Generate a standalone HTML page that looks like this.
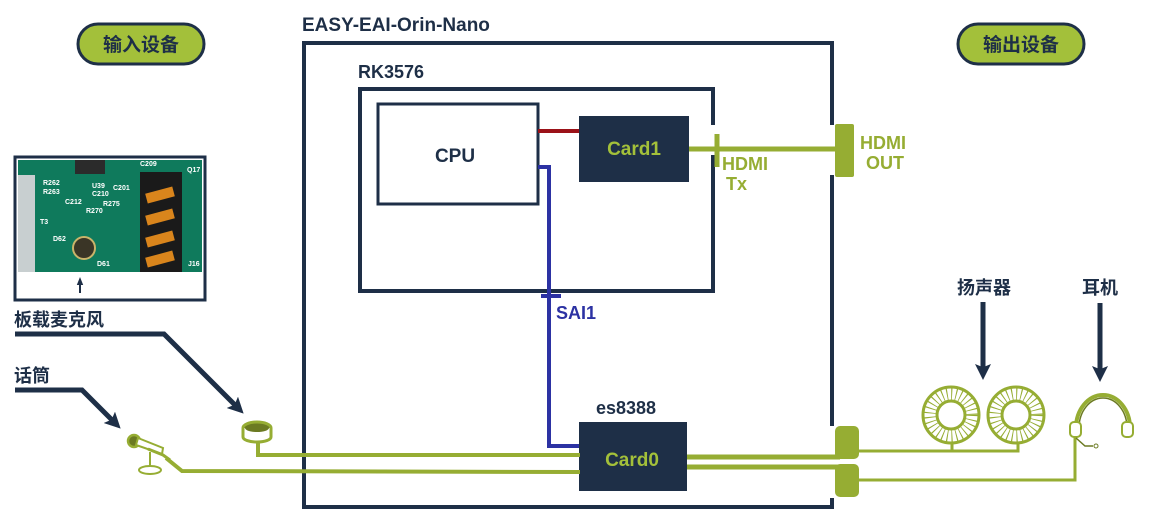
<!DOCTYPE html>
<html><head><meta charset="utf-8"><style>
html,body{margin:0;padding:0;background:#fff;}
svg{display:block;}
text{font-family:"Liberation Sans","Noto Sans CJK SC",sans-serif;font-weight:bold;}
</style></head><body>
<svg width="1150" height="522" viewBox="0 0 1150 522" xmlns="http://www.w3.org/2000/svg">
<defs>
<marker id="ah" viewBox="0 0 10 10" refX="5" refY="5" markerWidth="3.2" markerHeight="3.2" orient="auto"><path d="M0,0 L10,5 L0,10 L2,5 z" fill="#1e2f47"/></marker>
<marker id="ah2" viewBox="0 0 10 10" refX="5" refY="5" markerWidth="4" markerHeight="4" orient="auto"><path d="M0,1 L10,5 L0,9 z" fill="#1e2f47"/></marker>
</defs>
<rect x="78" y="24" width="126" height="40" rx="20" fill="#a3c03a" stroke="#1e2f47" stroke-width="3"/>
<text x="141" y="51" font-size="19" fill="#1e2f47" text-anchor="middle">输入设备</text>
<rect x="958" y="24" width="126" height="40" rx="20" fill="#a3c03a" stroke="#1e2f47" stroke-width="3"/>
<text x="1021" y="51" font-size="19" fill="#1e2f47" text-anchor="middle">输出设备</text>

<text x="302" y="31" font-size="19" fill="#1e2f47">EASY-EAI-Orin-Nano</text>
<rect x="304" y="43" width="528" height="464" fill="none" stroke="#1e2f47" stroke-width="4"/>
<text x="358" y="78" font-size="18" fill="#1e2f47">RK3576</text>
<rect x="360" y="89" width="353" height="202" fill="none" stroke="#1e2f47" stroke-width="4"/>
<rect x="378" y="104" width="160" height="100" fill="#fff" stroke="#1e2f47" stroke-width="3"/>
<text x="455" y="162" font-size="19" fill="#1e2f47" text-anchor="middle">CPU</text>
<line x1="538" y1="131" x2="580" y2="131" stroke="#9b1218" stroke-width="4"/>
<rect x="579" y="116" width="110" height="66" fill="#1e2f47"/>
<text x="634" y="155" font-size="19" fill="#a3c03a" text-anchor="middle">Card1</text>
<rect x="708" y="125" width="10" height="30" fill="#fff"/>
<rect x="826" y="125" width="12" height="50" fill="#fff"/>
<line x1="689" y1="149" x2="840" y2="149" stroke="#96ad33" stroke-width="5"/>
<line x1="717" y1="134" x2="717" y2="167" stroke="#96ad33" stroke-width="5"/>
<rect x="835" y="124" width="19" height="53" rx="2" fill="#96ad33"/>
<text x="722" y="170" font-size="18" fill="#96ad33">HDMI</text>
<text x="726" y="190" font-size="18" fill="#96ad33">Tx</text>
<text x="860" y="149" font-size="18" fill="#96ad33">HDMI</text>
<text x="866" y="169" font-size="18" fill="#96ad33">OUT</text>
<polyline points="538,167 549,167 549,446 580,446" fill="none" stroke="#2c32a3" stroke-width="4"/>
<line x1="541" y1="296" x2="561" y2="296" stroke="#2c32a3" stroke-width="4"/>
<text x="556" y="319" font-size="18" fill="#2c32a3">SAI1</text>
<text x="596" y="414" font-size="18" fill="#1e2f47">es8388</text>
<rect x="579" y="422" width="108" height="69" fill="#1e2f47"/>
<text x="632" y="466" font-size="19" fill="#a3c03a" text-anchor="middle">Card0</text>
<rect x="826" y="426" width="12" height="72" fill="#fff"/>
<line x1="687" y1="457" x2="840" y2="457" stroke="#96ad33" stroke-width="5"/>
<line x1="687" y1="467" x2="840" y2="467" stroke="#96ad33" stroke-width="5"/>
<rect x="835" y="426" width="24" height="33" rx="5" fill="#96ad33"/>
<rect x="835" y="464" width="24" height="33" rx="5" fill="#96ad33"/>
<polyline points="859,451 1018,451 1018,444" fill="none" stroke="#96ad33" stroke-width="3"/>
<line x1="952" y1="451" x2="952" y2="444" stroke="#96ad33" stroke-width="3"/>
<polyline points="859,480 1075,480 1075,437" fill="none" stroke="#96ad33" stroke-width="3"/>
<g fill="none" stroke="#96ad33" stroke-width="3">
<circle cx="951" cy="415" r="28"/><circle cx="951" cy="415" r="14"/>
<circle cx="1016" cy="415" r="28"/><circle cx="1016" cy="415" r="14"/>
</g>
<g stroke="#96ad33">
<circle cx="951" cy="415" r="21" fill="none" stroke-width="13" stroke-dasharray="1 3.5"/>
<circle cx="1016" cy="415" r="21" fill="none" stroke-width="13" stroke-dasharray="1 3.5"/>
</g>
<path d="M1076,428 A27,33 0 0 1 1130,428" fill="none" stroke="#96ad33" stroke-width="4"/>
<path d="M1079,428 A24,30 0 0 1 1127,428" fill="none" stroke="#6b7a22" stroke-width="1.5"/>
<rect x="1070" y="422" width="11" height="15" rx="4" fill="#fff" stroke="#96ad33" stroke-width="2"/>
<rect x="1122" y="422" width="11" height="15" rx="4" fill="#fff" stroke="#96ad33" stroke-width="2"/>
<polyline points="1076,438 1085,446 1093,446" fill="none" stroke="#6b7a22" stroke-width="1.5"/>
<circle cx="1096" cy="446" r="2" fill="#fff" stroke="#6b7a22"/>
<text x="984" y="294" font-size="18" fill="#1e2f47" text-anchor="middle">扬声器</text>
<text x="1100" y="294" font-size="18" fill="#1e2f47" text-anchor="middle">耳机</text>
<line x1="983" y1="302" x2="983" y2="372" stroke="#1e2f47" stroke-width="5" marker-end="url(#ah)"/>
<line x1="1100" y1="303" x2="1100" y2="374" stroke="#1e2f47" stroke-width="5" marker-end="url(#ah)"/>

<rect x="15" y="157" width="190" height="143" fill="#fff" stroke="#1e2f47" stroke-width="3"/>
<rect x="18" y="160" width="184" height="112" fill="#0f7a5c"/>
<rect x="18" y="175" width="17" height="97" fill="#c8cfd0"/>
<rect x="140" y="172" width="42" height="100" fill="#1a1a1a"/>
<g fill="#d9851c">
<rect x="146" y="190" width="28" height="10" transform="rotate(-15 160 195)"/>
<rect x="146" y="212" width="28" height="10" transform="rotate(-15 160 217)"/>
<rect x="146" y="234" width="28" height="10" transform="rotate(-15 160 239)"/>
<rect x="146" y="254" width="28" height="10" transform="rotate(-15 160 259)"/>
</g>
<rect x="75" y="160" width="30" height="14" fill="#2b2b2b"/>
<circle cx="84" cy="248" r="11" fill="#3a3526" stroke="#c9b46a" stroke-width="2"/>
<g font-size="7" fill="#fff" font-weight="normal">
<text x="43" y="185">R262</text><text x="43" y="194">R263</text><text x="92" y="188">U39</text><text x="92" y="196">C210</text>
<text x="140" y="166">C209</text><text x="187" y="172">Q17</text><text x="113" y="190">C201</text>
<text x="65" y="204">C212</text><text x="103" y="206">R275</text><text x="86" y="213">R270</text>
<text x="40" y="224">T3</text><text x="53" y="241">D62</text><text x="97" y="266">D61</text><text x="188" y="266">J16</text>
</g>
<line x1="80" y1="293" x2="80" y2="281" stroke="#1e2f47" stroke-width="2" marker-end="url(#ah2)"/>
<text x="14" y="326" font-size="18" fill="#1e2f47">板载麦克风</text>
<polyline points="15,334 164,334 238,408" fill="none" stroke="#1e2f47" stroke-width="5" marker-end="url(#ah)"/>
<text x="14" y="382" font-size="18" fill="#1e2f47">话筒</text>
<polyline points="15,390 82,390 115,423" fill="none" stroke="#1e2f47" stroke-width="5" marker-end="url(#ah)"/>
<ellipse cx="257" cy="428" rx="14" ry="6" fill="#6b7a22" stroke="#96ad33" stroke-width="3"/>
<path d="M243,428 v9 a14,5 0 0 0 28,0 v-9" fill="#fff" stroke="#96ad33" stroke-width="3"/>
<ellipse cx="257" cy="428" rx="12" ry="4" fill="#6b7a22"/>
<polyline points="258,442 258,455 580,455" fill="none" stroke="#96ad33" stroke-width="4"/>
<circle cx="134" cy="441" r="6" fill="#6b7a22" stroke="#96ad33" stroke-width="2.5"/>
<polygon points="138,438 163,448 162,454 136,445" fill="#fff" stroke="#96ad33" stroke-width="2"/>
<polyline points="148,449 163,455 170,460" fill="none" stroke="#96ad33" stroke-width="3"/>
<line x1="150" y1="452" x2="150" y2="468" stroke="#96ad33" stroke-width="2"/>
<ellipse cx="150" cy="470" rx="11" ry="4" fill="#fff" stroke="#96ad33" stroke-width="2"/>
<polyline points="166,458 182,471 580,472" fill="none" stroke="#96ad33" stroke-width="4"/>
</svg>
</body></html>
